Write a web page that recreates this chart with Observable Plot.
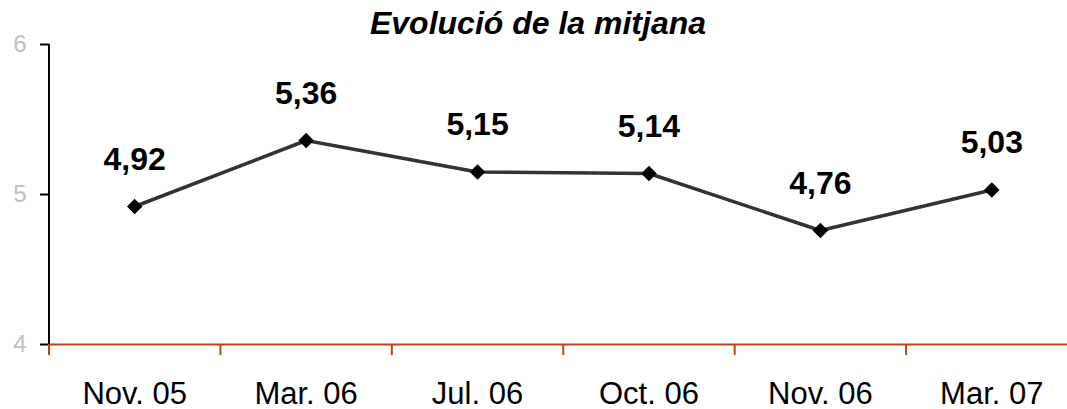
<!DOCTYPE html>
<html><head><meta charset="utf-8">
<script src="https://cdn.jsdelivr.net/npm/d3@7"></script>
<script src="https://cdn.jsdelivr.net/npm/@observablehq/plot@0.6"></script>
<style>
html,body{margin:0;padding:0;overflow:hidden;background:#fff;}
#wrap{position:relative;width:1067px;height:409px;}
#title{position:absolute;left:0;width:1076px;top:5px;text-align:center;font:italic bold 32px "Liberation Sans",Arial,sans-serif;color:#000;}
</style></head>
<body><div id="wrap"><div id="title">Evolució de la mitjana</div></div>
<script>
const categories = ["Nov. 05","Mar. 06","Jul. 06","Oct. 06","Nov. 06","Mar. 07"];
const values = [4.92, 5.36, 5.15, 5.14, 4.76, 5.03];
const labels = ["4,92","5,36","5,15","5,14","4,76","5,03"];
const yTicks = [4, 5, 6];

const data = categories.map((c, i) => ({i, c, v: values[i], l: labels[i]}));
const bounds = d3.range(categories.length + 1).map(k => k - 0.5);
const orange = "#b8461b";

const chart = Plot.plot({
  width: 1067, height: 409,
  marginLeft: 49, marginTop: 44, marginBottom: 65, marginRight: 0,
  style: {fontFamily: '"Liberation Sans", Arial, sans-serif', background: "white", overflow: "hidden"},
  x: {type: "linear", domain: [-0.5, categories.length - 0.5], range: [48.5, 1077]},
  y: {domain: [4, 6], range: [344, 44]},
  marks: [
    Plot.axisY({ticks: yTicks, tickSize: 9, tickFormat: () => "", stroke: "black", strokeWidth: 2, label: null}),
    Plot.axisY({ticks: yTicks, tickSize: 0, tickPadding: 23, tickFormat: d => String(d), fill: "#c0c0c0", fontSize: 24, label: null}),
    Plot.ruleX([-0.5], {y1: 4, y2: 6, stroke: "black", strokeWidth: 2}),
    Plot.axisX({ticks: bounds, tickSize: 11, tickFormat: () => "", stroke: orange, strokeWidth: 2, label: null}),
    Plot.axisX({ticks: d3.range(categories.length), tickSize: 0, tickPadding: 37, tickFormat: i => categories[i], fill: "black", fontSize: 31, label: null}),
    Plot.ruleY([4], {stroke: orange, strokeWidth: 2}),
    Plot.line(data, {x: "i", y: "v", stroke: "#333333", strokeWidth: 3.5}),
    Plot.dot(data, {x: "i", y: "v", symbol: "diamond2", r: 7, fill: "black", stroke: "none"}),
    Plot.text(data, {x: "i", y: "v", text: "l", lineAnchor: "bottom", dy: -37, fontSize: 32, fontWeight: "bold", fill: "black"})
  ]
});
document.getElementById("wrap").prepend(chart);
</script>
</body></html>
